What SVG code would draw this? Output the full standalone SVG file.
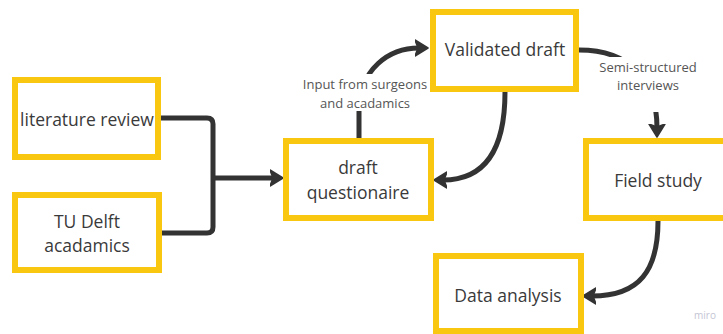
<svg xmlns="http://www.w3.org/2000/svg" width="723" height="334" viewBox="0 0 723 334">
<defs>
<style>
.box{fill:#fff;stroke:#FAC710;stroke-width:6}
.t{font-family:"Open Sans","Liberation Sans",sans-serif;font-size:17.5px;fill:#3a3a3a;text-anchor:middle}
.lbl{font-family:"Open Sans","Liberation Sans",sans-serif;font-size:13px;fill:#555;text-anchor:middle}
.c{fill:none;stroke:#333;stroke-width:5}
.bg{fill:#fff}
</style>
<marker id="ah" viewBox="0 -9 14 18" refX="4" refY="0" markerWidth="14" markerHeight="18" markerUnits="userSpaceOnUse" orient="auto">
<path d="M0,-8 L13,0 L0,8 L3,0 Z" fill="#333" stroke="#333" stroke-width="1.5" stroke-linejoin="round"/>
</marker>
</defs>
<rect width="723" height="334" fill="#fff"/>
<g id="connectors">
<path class="c" d="M161,118 H207 Q213,118 213,124 V227 Q213,233 207,233 H161"/>
<path class="c" d="M213,178 H274" marker-end="url(#ah)"/>
<path class="c" d="M359,138 V112 C359,68 390,48 419,48" marker-end="url(#ah)"/>
<path class="c" d="M505,92 C505,150 485,180 443,180" marker-end="url(#ah)"/>
<path class="c" d="M579,50 C630,50 657,80 657,128" marker-end="url(#ah)"/>
<path class="c" d="M658,221 C658,270 640,296 592,296" marker-end="url(#ah)"/>
</g>
<g id="label-input">
<rect class="bg" x="298" y="74" width="134" height="37"/>
<text class="lbl" x="365" y="89">Input from surgeons</text>
<text class="lbl" x="365" y="108">and acadamics</text>
</g>
<g id="label-semi">
<rect class="bg" x="594" y="57" width="108" height="55"/>
<text class="lbl" x="648" y="72">Semi-structured</text>
<text class="lbl" x="648" y="90">interviews</text>
</g>
<g id="literature-review">
<rect class="box" x="15" y="80" width="143" height="77"/>
<text class="t" x="87" y="126">literature review</text>
</g>
<g id="tu-delft">
<rect class="box" x="15" y="195" width="144" height="75"/>
<text class="t" x="87" y="228">TU Delft</text>
<text class="t" x="87" y="252">acadamics</text>
</g>
<g id="draft-questionaire">
<rect class="box" x="286" y="141" width="145" height="77"/>
<text class="t" x="358" y="174">draft</text>
<text class="t" x="358" y="199">questionaire</text>
</g>
<g id="validated-draft">
<rect class="box" x="433" y="12" width="143" height="77"/>
<text class="t" x="505" y="56">Validated draft</text>
</g>
<g id="field-study">
<rect class="box" x="586" y="141" width="150" height="77"/>
<text class="t" x="658" y="187">Field study</text>
</g>
<g id="data-analysis">
<rect class="box" x="436" y="256" width="145" height="75"/>
<text class="t" x="508" y="302">Data analysis</text>
</g>
<text x="705" y="319" font-family="Open Sans, Liberation Sans, sans-serif" font-size="10" fill="#c4c4d4" text-anchor="middle">miro</text>
</svg>
